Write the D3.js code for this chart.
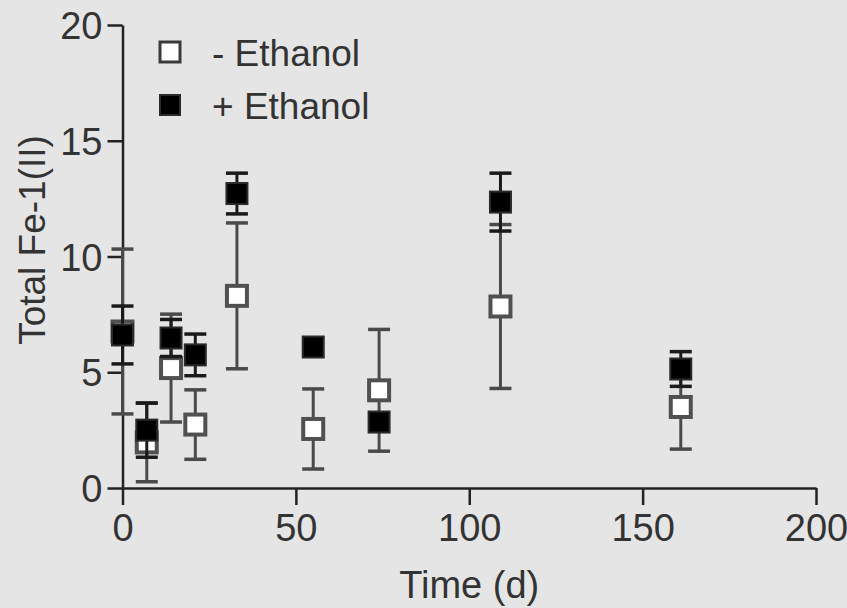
<!DOCTYPE html>
<html>
<head>
<meta charset="utf-8">
<script src="https://cdn.jsdelivr.net/npm/d3@7/dist/d3.min.js"></script>
<style>
  html, body { margin: 0; padding: 0; background: #e5e5e5; }
  svg { display: block; }
  text { font-family: "Liberation Sans", Arial, sans-serif; fill: #333; }
</style>
</head>
<body>
<svg id="chart" width="847" height="608"></svg>
<script>
// ---- Data ----
const days = [0, 7, 14, 21, 33, 55, 74, 109, 161];
const minusEthanol    = [6.76, 1.97, 5.18, 2.74, 8.3, 2.55, 4.22, 7.84, 3.5];
const minusEthanolErr = [3.56, 1.70, 2.33, 1.50, 3.15, 1.73, 2.63, 3.54, 1.82];
const plusEthanol     = [6.61, 2.50, 6.48, 5.75, 12.72, 6.09, 2.85, 12.35, 5.14];
const plusEthanolErr  = [1.25, 1.17, 0.80, 0.90, 0.88, 0.40, 0.40, 1.25, 0.75];
const seriesNames = ["- Ethanol", "+ Ethanol"];
const xTicks = [0, 50, 100, 150, 200];
const yTicks = [0, 5, 10, 15, 20];
const xTitle = "Time (d)";
const yTitle = "Total Fe-1(II)";

// ---- Layout ----
const svg = d3.select("#chart");
const x = d3.scaleLinear().domain([0, 200]).range([122.5, 816]);
const y = d3.scaleLinear().domain([0, 20]).range([488, 25]);
const FS = 38;

// background
svg.append("rect").attr("width", 847).attr("height", 608).attr("fill", "#e5e5e5");

// axes
const yAxis = d3.axisLeft(y).tickValues(yTicks).tickSize(15).tickSizeOuter(0).tickPadding(5);
const xAxis = d3.axisBottom(x).tickValues(xTicks).tickSize(17).tickSizeOuter(0).tickPadding(9);

const gy = svg.append("g").attr("transform", `translate(${x(0)},0)`).call(yAxis);
const gx = svg.append("g").attr("transform", `translate(0,${y(0)})`).call(xAxis);

[gx, gy].forEach(g => {
  g.select(".domain").attr("stroke", "#222").attr("stroke-width", 2.5);
  g.selectAll(".tick line").attr("stroke", "#222").attr("stroke-width", 2.5);
  g.selectAll(".tick text")
    .attr("font-size", FS)
    .attr("font-family", '"Liberation Sans", Arial, sans-serif')
    .attr("fill", "#333");
});
gy.selectAll(".tick text").attr("dy", "0.36em");
gx.selectAll(".tick text").attr("dy", "0.71em");

// axis titles
svg.append("text")
  .attr("x", (x(0) + x(200)) / 2)
  .attr("y", 598)
  .attr("text-anchor", "middle")
  .attr("font-size", FS)
  .text(xTitle);

svg.append("text")
  .attr("transform", `translate(45,240) rotate(-90)`)
  .attr("text-anchor", "middle")
  .attr("font-size", 37)
  .text(yTitle);

// ---- Data marks ----
const cap = 11;
const series = [
  { vals: minusEthanol, errs: minusEthanolErr, open: true,  bar: "#4a4a4a" },
  { vals: plusEthanol,  errs: plusEthanolErr,  open: false, bar: "#1a1a1a" }
];

series.forEach(s => {
  const g = svg.append("g");
  const data = days.map((d, i) => ({ d, v: s.vals[i], e: s.errs[i] }));
  // error bars
  g.selectAll("line.v").data(data).join("line")
    .attr("x1", p => x(p.d)).attr("x2", p => x(p.d))
    .attr("y1", p => y(p.v + p.e)).attr("y2", p => y(p.v - p.e))
    .attr("stroke", s.bar).attr("stroke-width", 3);
  g.selectAll("line.top").data(data).join("line")
    .attr("x1", p => x(p.d) - cap).attr("x2", p => x(p.d) + cap)
    .attr("y1", p => y(p.v + p.e)).attr("y2", p => y(p.v + p.e))
    .attr("stroke", s.bar).attr("stroke-width", 3.5);
  g.selectAll("line.bot").data(data).join("line")
    .attr("x1", p => x(p.d) - cap).attr("x2", p => x(p.d) + cap)
    .attr("y1", p => y(p.v - p.e)).attr("y2", p => y(p.v - p.e))
    .attr("stroke", s.bar).attr("stroke-width", 3.5);
  // symbols
  const sz = s.open ? 20 : 21;
  g.selectAll("rect").data(data).join("rect")
    .attr("x", p => x(p.d) - sz / 2).attr("y", p => y(p.v) - sz / 2)
    .attr("width", sz).attr("height", sz)
    .attr("fill", s.open ? "#ffffff" : "#000000")
    .attr("stroke", s.open ? "#505050" : "#2a2a2a")
    .attr("stroke-width", s.open ? 4 : 2);
});

// ---- Legend ----
const legendY = [52, 105];
const leg = svg.append("g");
seriesNames.forEach((name, i) => {
  leg.append("rect")
    .attr("x", 160).attr("y", legendY[i] - 10)
    .attr("width", 20).attr("height", 20)
    .attr("fill", i === 0 ? "#ffffff" : "#000000")
    .attr("stroke", i === 0 ? "#3a3a3a" : "#2a2a2a")
    .attr("stroke-width", i === 0 ? 3 : 2);
  leg.append("text")
    .attr("x", 212).attr("y", legendY[i] + 13.5)
    .attr("font-size", 37)
    .text(name);
});
</script>
</body>
</html>
